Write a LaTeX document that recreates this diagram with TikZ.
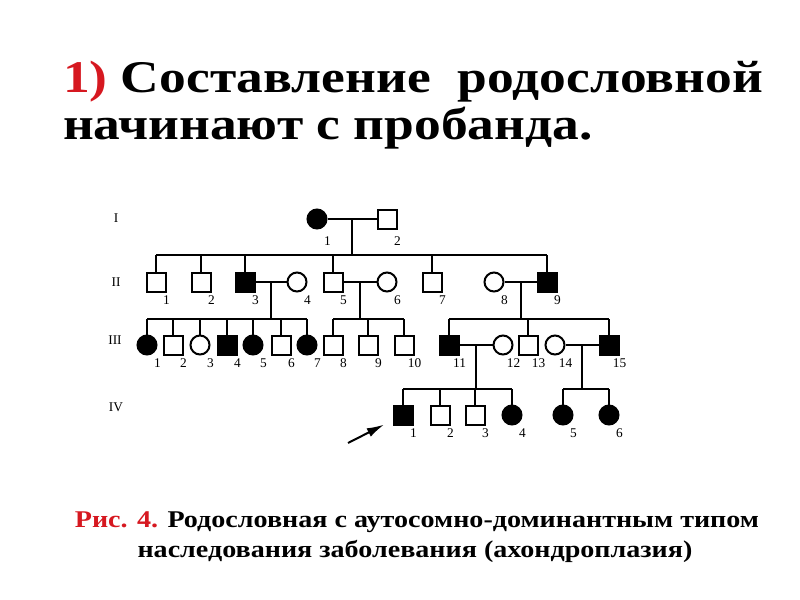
\documentclass[tikz,border=0pt]{standalone}
\usepackage{fontspec}
\setmainfont{Liberation Serif}
\newfontfamily\headfont[FakeStretch=1.18]{Liberation Serif}
\newfontfamily\capfont[FakeStretch=1.17]{Liberation Serif}
\usetikzlibrary{arrows.meta,calc}
\definecolor{capred}{RGB}{214,24,32}

\tikzset{
  male/.style={draw, rectangle, minimum size=14.25pt, inner sep=0pt},
  female/.style={draw, circle, minimum size=14.25pt, inner sep=0pt},
  ill/.style={fill=black},
  num/.style={font=\fontsize{10}{11}\selectfont, anchor=west, inner sep=0pt, xshift=7.9pt, yshift=-13.5pt},
  numlow/.style={num, yshift=-3pt},
  gen/.style={font=\fontsize{10}{11}\selectfont, inner sep=0pt},
  heading/.style={font=\headfont\fontsize{34}{40}\selectfont\bfseries, inner sep=0pt, anchor=base west},
  caption/.style={font=\capfont\fontsize{18}{21}\selectfont\bfseries, inner sep=0pt, anchor=base},
  proband/.style={-{Latex[length=13pt,width=7pt]}, shorten >=7pt},
}

\begin{document}
\begin{tikzpicture}[x=0.75pt,y=0.75pt,yscale=-1,xscale=1,line width=1.5pt]
\useasboundingbox (0,0) rectangle (800,600);

% Title
\node[heading] (title1) at (62,92) {\textcolor{capred}{1)} Составление\ \ родословной};
\node[heading] (title2) at (62,139) {начинают с пробанда.};

% Generation marks
\node[gen] (genI) at (116,218) {I};
\node[gen] (genII) at (116,282) {II};
\node[gen] (genIII) at (115,340) {III};
\node[gen] (genIV) at (116,407) {IV};

% Sibship levels
\coordinate (yII) at (0,255);
\coordinate (yIII) at (0,319);
\coordinate (yIV) at (0,389);

% Generation I
\node[female, ill, label={[numlow]center:1}] (I1) at (317,219) {};
\node[male, label={[numlow]center:2}] (I2) at (387,219) {};

% Generation II
\node[male, label={[num]center:1}] (II1) at (156,282) {};
\node[male, label={[num]center:2}] (II2) at (201,282) {};
\node[male, ill, label={[num]center:3}] (II3) at (245,282) {};
\node[female, label={[num]center:4}] (II4) at (297,282) {};
\node[male, label={[num]center:5}] (II5) at (333,282) {};
\node[female, label={[num]center:6}] (II6) at (387,282) {};
\node[male, label={[num]center:7}] (II7) at (432,282) {};
\node[female, label={[num]center:8}] (II8) at (494,282) {};
\node[male, ill, label={[num]center:9}] (II9) at (547,282) {};

% Generation III
\node[female, ill, label={[num]center:1}] (III1) at (147,345) {};
\node[male, label={[num]center:2}] (III2) at (173,345) {};
\node[female, label={[num]center:3}] (III3) at (200,345) {};
\node[male, ill, label={[num]center:4}] (III4) at (227,345) {};
\node[female, ill, label={[num]center:5}] (III5) at (253,345) {};
\node[male, label={[num]center:6}] (III6) at (281,345) {};
\node[female, ill, label={[num]center:7}] (III7) at (307,345) {};
\node[male, label={[num]center:8}] (III8) at (333,345) {};
\node[male, label={[num]center:9}] (III9) at (368,345) {};
\node[male, label={[num]center:10}] (III10) at (404,345) {};
\node[male, ill, label={[num]center:11}] (III11) at (449,345) {};
\node[female, label={[num]center:12}] (III12) at (503,345) {};
\node[male, label={[num]center:13}] (III13) at (528,345) {};
\node[female, label={[num]center:14}] (III14) at (555,345) {};
\node[male, ill, label={[num]center:15}] (III15) at (609,345) {};

% Generation IV
\node[male, ill, label={[num]center:1}] (IV1) at (403,415) {};
\node[male, label={[num]center:2}] (IV2) at (440,415) {};
\node[male, label={[num]center:3}] (IV3) at (475,415) {};
\node[female, ill, label={[num]center:4}] (IV4) at (512,415) {};
\node[female, ill, label={[num]center:5}] (IV5) at (563,415) {};
\node[female, ill, label={[num]center:6}] (IV6) at (609,415) {};

% Marriages
\draw (I1) -- (I2);
\draw (II3) -- (II4);
\draw (II5) -- (II6);
\draw (II8) -- (II9);
\draw (III11) -- (III12);
\draw (III14) -- (III15);
\coordinate (mA) at ($(I1)!.5!(I2)$);
\coordinate (mB) at ($(II3)!.5!(II4)$);
\coordinate (mC) at ($(II5)!.5!(II6)$);
\coordinate (mD) at ($(II8)!.5!(II9)$);
\coordinate (mE) at ($(III11)!.5!(III12)$);
\coordinate (mF) at ($(III14)!.5!(III15)$);

% Sibships
\draw (mA) -- (mA |- yII);
\draw (II1 |- yII) -- (II9 |- yII);
\foreach \c in {II1,II2,II3,II5,II7,II9} \draw (\c) -- (\c |- yII);

\draw (mB) -- (mB |- yIII);
\draw (III1 |- yIII) -- (III7 |- yIII);
\foreach \c in {III1,III2,III3,III4,III5,III6,III7} \draw (\c) -- (\c |- yIII);

\draw (mC) -- (mC |- yIII);
\draw (III8 |- yIII) -- (III10 |- yIII);
\foreach \c in {III8,III9,III10} \draw (\c) -- (\c |- yIII);

\draw (mD) -- (mD |- yIII);
\draw (III11 |- yIII) -- (III15 |- yIII);
\foreach \c in {III11,III13,III15} \draw (\c) -- (\c |- yIII);

\draw (mE) -- (mE |- yIV);
\draw (IV1 |- yIV) -- (IV4 |- yIV);
\foreach \c in {IV1,IV2,IV3,IV4} \draw (\c) -- (\c |- yIV);

\draw (mF) -- (mF |- yIV);
\draw (IV5 |- yIV) -- (IV6 |- yIV);
\foreach \c in {IV5,IV6} \draw (\c) -- (\c |- yIV);

% Proband
\coordinate (pb) at (348,443);
\draw[proband] (pb) -- (IV1);

% Caption
\node[caption] (cap1) at (417,527) {\textcolor{capred}{Рис. 4.} Родословная с аутосомно-доминантным типом};
\node[caption] (cap2) at (415,557) {наследования заболевания (ахондроплазия)};

\end{tikzpicture}
\end{document}
